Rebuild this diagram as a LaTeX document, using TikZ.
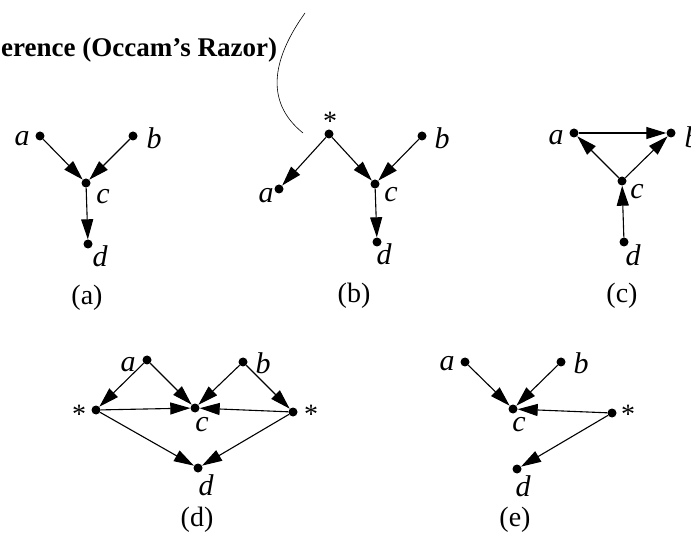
\documentclass[tikz,border=0pt]{standalone}
\usepackage{fontspec}
\setmainfont{Liberation Serif}
\usetikzlibrary{arrows.meta}

\begin{document}
\begin{tikzpicture}[
    x=1pt, y=-1pt,
    vtx/.style={circle, fill, inner sep=0pt, minimum size=9pt},
    lbl/.style={font=\fontsize{30}{32}\selectfont\itshape, inner sep=0pt},
    captxt/.style={font=\fontsize{28}{30}\selectfont, inner sep=0pt},
    arr/.style={-{Triangle[length=20pt, width=12pt]}, line width=1.1pt},
]
\useasboundingbox (0,0) rectangle (691,537);

% --- title (cut at the left) and the hand-drawn curve ---
\node[anchor=base west, inner sep=0pt, font=\fontsize{27}{30}\selectfont\bfseries] (ttl) at (1,57) {erence (Occam’s Razor)};
\draw[line width=0.6pt] (305,13) .. controls (275,55) and (262,100) .. (303,133);

% --- (a) ---
\node[vtx] (a1) at (40,136) {};
\node[vtx] (b1) at (133,136) {};
\node[vtx] (c1) at (86,183) {};
\node[vtx] (d1) at (88,244) {};
\node[lbl] (la1) at (22,139) {a};
\node[lbl] (lb1) at (154,138) {b};
\node[lbl] (lc1) at (103,197) {c};
\node[lbl] (ld1) at (100,256) {d};
\node[captxt] (cap1) at (87,298) {(a)};

% --- (b) ---
\node[vtx] (s2) at (329,134) {};
\node[vtx] (a2) at (279,189) {};
\node[vtx] (c2) at (375,184) {};
\node[vtx] (b2) at (422,136) {};
\node[vtx] (d2) at (377,242) {};
\node[captxt] (ls2) at (330,121) {*};
\node[lbl] (la2) at (266,196) {a};
\node[lbl] (lc2) at (391,195) {c};
\node[lbl] (lb2) at (442,138) {b};
\node[lbl] (ld2) at (384,254) {d};
\node[captxt] (cap2) at (354,296) {(b)};

% --- (c) ---
\node[vtx] (a3) at (574,133) {};
\node[vtx] (b3) at (671,133) {};
\node[vtx] (c3) at (622,181) {};
\node[vtx] (d3) at (624,242) {};
\node[lbl] (la3) at (556,138) {a};
\node[lbl] (lb3) at (692,137) {b};
\node[lbl] (lc3) at (637,192) {c};
\node[lbl] (ld3) at (633,255) {d};
\node[captxt] (cap3) at (622,296) {(c)};

% --- (d) ---
\node[vtx] (a4) at (147,360) {};
\node[vtx] (b4) at (243,362) {};
\node[vtx] (sl4) at (96,410) {};
\node[vtx] (c4) at (195,408) {};
\node[vtx] (sr4) at (293,412) {};
\node[vtx] (d4) at (198,468) {};
\node[lbl] (la4) at (128,365) {a};
\node[lbl] (lb4) at (263,363) {b};
\node[captxt] (lsl4) at (79,414) {*};
\node[captxt] (lsr4) at (311,414) {*};
\node[lbl] (lc4) at (202,425) {c};
\node[lbl] (ld4) at (206,485) {d};
\node[captxt] (cap4) at (197,520) {(d)};

% --- (e) ---
\node[vtx] (a5) at (465,362) {};
\node[vtx] (b5) at (561,362) {};
\node[vtx] (c5) at (513,409) {};
\node[vtx] (s5) at (612,413) {};
\node[vtx] (d5) at (517,469) {};
\node[lbl] (la5) at (447,364) {a};
\node[lbl] (lb5) at (581,363) {b};
\node[lbl] (lc5) at (519,425) {c};
\node[captxt] (ls5) at (628,414) {*};
\node[lbl] (ld5) at (523,486) {d};
\node[captxt] (cap5) at (515,520) {(e)};

% --- arrows ---
\draw[arr] (a1) -- (c1);
\draw[arr] (b1) -- (c1);
\draw[arr] (c1) -- (d1);

\draw[arr] (s2) -- (a2);
\draw[arr] (s2) -- (c2);
\draw[arr] (b2) -- (c2);
\draw[arr] (c2) -- (d2);

\draw[arr] (a3) -- (b3);
\draw[arr] (c3) -- (a3);
\draw[arr] (c3) -- (b3);
\draw[arr] (d3) -- (c3);

\draw[arr] (a4) -- (sl4);
\draw[arr] (a4) -- (c4);
\draw[arr] (b4) -- (c4);
\draw[arr] (b4) -- (sr4);
\draw[arr] (sl4) -- (c4);
\draw[arr] (sr4) -- (c4);
\draw[arr] (sl4) -- (d4);
\draw[arr] (sr4) -- (d4);

\draw[arr] (a5) -- (c5);
\draw[arr] (b5) -- (c5);
\draw[arr] (s5) -- (c5);
\draw[arr] (s5) -- (d5);

\end{tikzpicture}
\end{document}
